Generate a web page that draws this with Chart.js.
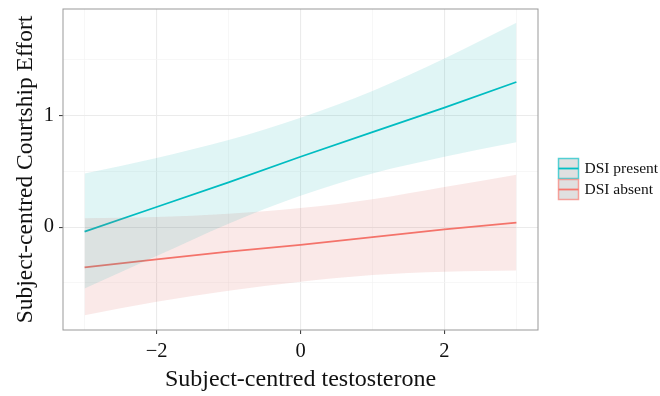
<!DOCTYPE html>
<html>
<head>
<meta charset="utf-8">
<script src="https://cdn.jsdelivr.net/npm/chart.js@4"></script>
<style>
  html, body { margin: 0; padding: 0; background: #fff; }
  #wrap { width: 660px; height: 396px; }
</style>
</head>
<body>
<div id="wrap"><canvas id="chart"></canvas></div>
<script>
const xs = [-3, -2, -1, 0, 1, 2, 3];

// DSI present: fitted line and 95% band
const presentFit = [-0.04, 0.18, 0.40, 0.63, 0.85, 1.07, 1.30];
const presentUpper = [0.48, 0.62, 0.78, 0.98, 1.22, 1.51, 1.83];
const presentLower = [-0.55, -0.26, 0.03, 0.28, 0.48, 0.63, 0.76];

// DSI absent: fitted line and 95% band
const absentFit = [-0.36, -0.29, -0.22, -0.16, -0.09, -0.02, 0.04];
const absentUpper = [0.08, 0.09, 0.12, 0.17, 0.25, 0.36, 0.47];
const absentLower = [-0.79, -0.67, -0.57, -0.49, -0.43, -0.40, -0.39];

const groups = ['DSI present', 'DSI absent'];
const xTicks = [-3, -2, -1, 0, 1, 2, 3];
const yTicks = [-0.5, 0, 0.5, 1, 1.5];

const CYAN = '#00BFC4';
const RED = '#F8766D';
const serif = '"Liberation Serif", "DejaVu Serif", serif';

const pts = (ys) => xs.map((x, i) => ({ x: x, y: ys[i] }));

function band(upper, lower, fill) {
  return [
    { data: pts(upper), borderWidth: 0, pointRadius: 0, fill: '+1', backgroundColor: fill, cubicInterpolationMode: 'monotone' },
    { data: pts(lower), borderWidth: 0, pointRadius: 0, fill: false, cubicInterpolationMode: 'monotone' },
  ];
}

// panel border + ggplot-like legend keys
const extras = {
  id: 'extras',
  afterDraw(chart) {
    const { ctx, chartArea: a } = chart;
    ctx.save();
    ctx.strokeStyle = '#999';
    ctx.lineWidth = 1;
    ctx.strokeRect(a.left, a.top, a.right - a.left, a.bottom - a.top);

    const cols = [CYAN, RED];
    groups.forEach((g, i) => {
      const x = 558.5, y = 158.5 + i * 21;
      ctx.fillStyle = '#e0e0e0';
      ctx.fillRect(x, y, 20, 20);
      ctx.strokeStyle = cols[i];
      ctx.globalAlpha = 0.65;
      ctx.lineWidth = 1.5;
      ctx.strokeRect(x, y, 20, 20);
      ctx.globalAlpha = 1;
      ctx.lineWidth = 1.8;
      ctx.beginPath();
      ctx.moveTo(x, y + 10);
      ctx.lineTo(x + 20, y + 10);
      ctx.stroke();
      ctx.fillStyle = '#111';
      ctx.font = '15.5px ' + serif;
      ctx.textBaseline = 'middle';
      ctx.fillText(g, x + 26, y + 10);
    });
    ctx.restore();
  }
};

new Chart(document.getElementById('chart'), {
  type: 'line',
  data: {
    datasets: [
      ...band(presentUpper, presentLower, 'rgba(0,170,175,0.12)'),
      ...band(absentUpper, absentLower, 'rgba(220,100,95,0.14)'),
      { label: groups[0], data: pts(presentFit), borderColor: CYAN, borderWidth: 1.8, pointRadius: 0, fill: false },
      { label: groups[1], data: pts(absentFit), borderColor: RED, borderWidth: 1.8, pointRadius: 0, fill: false },
    ]
  },
  options: {
    responsive: true,
    maintainAspectRatio: false,
    animation: false,
    layout: { padding: { top: 9, right: 122, left: 0, bottom: 0 } },
    plugins: {
      legend: { display: false },
      tooltip: { enabled: false },
      filler: { propagate: false },
    },
    scales: {
      x: {
        type: 'linear',
        min: -3.3,
        max: 3.3,
        afterBuildTicks: (s) => { s.ticks = xTicks.map(v => ({ value: v })); },
        afterFit: (s) => { s.height = 66; s.paddingLeft = 0; s.paddingRight = 0; },
        border: { display: false },
        grid: {
          color: (c) => (c.tick && c.tick.value % 2 === 0 ? '#ebebeb' : '#f3f3f3'),
          lineWidth: (c) => (c.tick && c.tick.value % 2 === 0 ? 1.1 : 0.7),
          tickColor: (c) => (c.tick && c.tick.value % 2 === 0 ? '#444' : 'rgba(0,0,0,0)'),
          tickLength: 4,
        },
        ticks: {
          autoSkip: false,
          maxRotation: 0,
          padding: 5,
          color: '#111',
          font: { family: serif, size: 20.5 },
          callback: (v) => (v % 2 === 0 ? String(v).replace('-', '\u2212') : ''),
        },
        title: {
          display: true,
          text: 'Subject-centred testosterone',
          color: '#111',
          font: { family: serif, size: 24 },
          padding: { top: 0, bottom: 2 },
        },
      },
      y: {
        min: -0.922,
        max: 1.954,
        afterBuildTicks: (s) => { s.ticks = yTicks.map(v => ({ value: v })); },
        afterFit: (s) => { s.width = 63; s.paddingTop = 0; s.paddingBottom = 0; },
        border: { display: false },
        grid: {
          color: (c) => (c.tick && Number.isInteger(c.tick.value) ? '#ebebeb' : '#f3f3f3'),
          lineWidth: (c) => (c.tick && Number.isInteger(c.tick.value) ? 1.1 : 0.7),
          tickColor: (c) => (c.tick && Number.isInteger(c.tick.value) ? '#444' : 'rgba(0,0,0,0)'),
          tickLength: 4,
        },
        ticks: {
          autoSkip: false,
          padding: 5,
          color: '#111',
          font: { family: serif, size: 20.5 },
          callback: (v) => (Number.isInteger(v) ? String(v) : ''),
        },
        title: {
          display: true,
          text: 'Subject-centred Courtship Effort',
          color: '#111',
          font: { family: serif, size: 23.5 },
          padding: { top: 12, bottom: 0 },
        },
      },
    },
  },
  plugins: [extras],
});
</script>
</body>
</html>
